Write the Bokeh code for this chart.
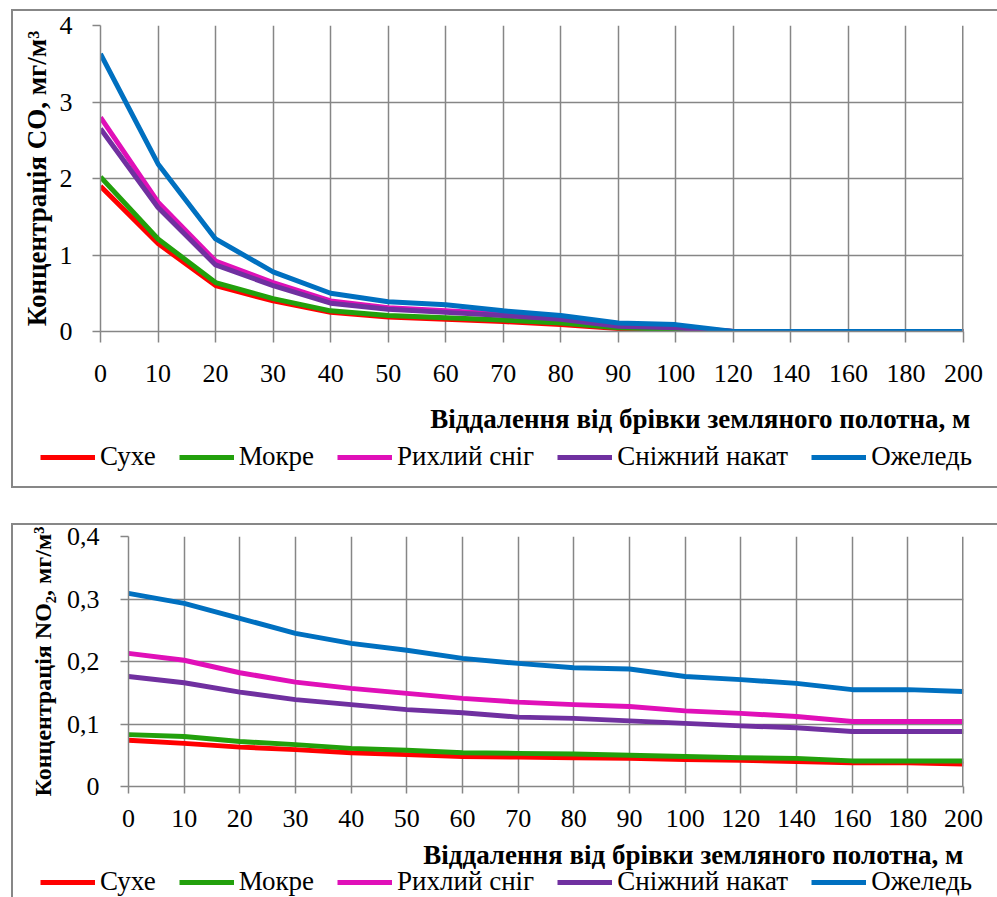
from bokeh.plotting import figure
from bokeh.models import (Range1d, FixedTicker, Span, Legend, LegendItem, Label,
                          InlineStyleSheet)
from bokeh.embed import file_html
from bokeh.resources import INLINE

# ---------------- data ----------------
categories = [0, 10, 20, 30, 40, 50, 60, 70, 80, 90, 100, 120, 140, 160, 180, 200]
series_names = ["Сухе", "Мокре", "Рихлий сніг", "Сніжний накат", "Ожеледь"]
series_colors = ["#FF0000", "#22A00C", "#E010B8", "#7030A0", "#0070C0"]

co_dry = [1.90, 1.15, 0.60, 0.40, 0.25, 0.19, 0.16, 0.13, 0.09, 0.04, 0.02, 0, 0, 0, 0, 0]
co_wet = [2.02, 1.21, 0.64, 0.43, 0.27, 0.21, 0.18, 0.15, 0.11, 0.05, 0.03, 0, 0, 0, 0, 0]
co_loose_snow = [2.80, 1.69, 0.92, 0.64, 0.40, 0.31, 0.27, 0.23, 0.18, 0.08, 0.06, 0, 0, 0, 0, 0]
co_packed_snow = [2.65, 1.62, 0.87, 0.60, 0.37, 0.29, 0.25, 0.21, 0.16, 0.07, 0.05, 0, 0, 0, 0, 0]
co_ice = [3.63, 2.19, 1.21, 0.78, 0.50, 0.39, 0.35, 0.27, 0.21, 0.11, 0.09, 0, 0, 0, 0, 0]

no2_dry = [0.074, 0.069, 0.063, 0.059, 0.054, 0.051, 0.048, 0.047, 0.046, 0.045, 0.043, 0.042, 0.040, 0.038, 0.038, 0.036]
no2_wet = [0.083, 0.080, 0.072, 0.067, 0.061, 0.058, 0.054, 0.053, 0.052, 0.050, 0.048, 0.046, 0.045, 0.041, 0.041, 0.041]
no2_loose_snow = [0.213, 0.202, 0.182, 0.167, 0.157, 0.149, 0.141, 0.135, 0.131, 0.128, 0.121, 0.117, 0.112, 0.104, 0.104, 0.104]
no2_packed_snow = [0.176, 0.166, 0.151, 0.139, 0.131, 0.123, 0.118, 0.111, 0.109, 0.105, 0.101, 0.097, 0.094, 0.088, 0.088, 0.088]
no2_ice = [0.309, 0.293, 0.269, 0.245, 0.229, 0.218, 0.205, 0.197, 0.190, 0.188, 0.176, 0.171, 0.165, 0.155, 0.155, 0.152]

co_ticks = [0, 1, 2, 3, 4]
co_tick_labels = ["0", "1", "2", "3", "4"]
no2_ticks = [0, 0.1, 0.2, 0.3, 0.4]
no2_tick_labels = ["0", "0,1", "0,2", "0,3", "0,4"]

x_title = "Віддалення від брівки земляного полотна, м"
co_title = "Концентрація CO, мг/м³"
no2_title = "Концентрація NO₂, мг/м³"

FONT = "Liberation Serif"
GRID = "#868686"
W = 997


def box_css(top, height):
    # grey frame round the whole chart (left, top and bottom edges visible)
    return (":host { position: relative; overflow: hidden; }"
            ":host::after { content: ''; position: absolute; left: 11px; top: %gpx;"
            " width: 2000px; height: %gpx; border: 2.5px solid #878787;"
            " box-sizing: border-box; pointer-events: none; z-index: 100; }" % (top, height))


def make_chart(height, frame_left, frame_top, frame_bottom, ymax, yticks, ylabels,
               ytitle, ytitle_size, series, xlabel_standoff, xtick_out, ylabel_standoff,
               ytitle_standoff, box_top):
    idx = list(range(len(categories)))
    p = figure(width=W, height=height, x_range=Range1d(0, len(categories) - 1),
               y_range=Range1d(0, ymax), output_backend="svg", toolbar_location=None,
               min_border_left=frame_left, min_border_right=34,
               min_border_top=frame_top, min_border_bottom=frame_bottom)
    p.outline_line_color = None
    p.background_fill_color = "white"
    p.border_fill_color = "white"

    p.xaxis.ticker = FixedTicker(ticks=idx)
    p.xaxis.major_label_overrides = {i: str(c) for i, c in zip(idx, categories)}
    p.yaxis.ticker = FixedTicker(ticks=yticks)
    p.yaxis.major_label_overrides = {t: l for t, l in zip(yticks, ylabels)}
    for ax in (p.xaxis[0], p.yaxis[0]):
        ax.axis_line_color = GRID
        ax.axis_line_width = 1.5
        ax.major_tick_line_color = GRID
        ax.major_tick_line_width = 1.5
        ax.major_tick_in = 0
        ax.minor_tick_line_color = None
        ax.major_label_text_font = FONT
        ax.major_label_text_font_size = "26px"
        ax.major_label_text_color = "black"
    p.xaxis.major_tick_out = xtick_out
    p.yaxis.major_tick_out = 8
    p.xaxis.major_label_standoff = xlabel_standoff
    p.yaxis.major_label_standoff = ylabel_standoff
    p.yaxis.axis_label = ytitle
    p.yaxis.axis_label_text_font = FONT
    p.yaxis.axis_label_text_font_style = "bold"
    p.yaxis.axis_label_text_font_size = ytitle_size
    p.yaxis.axis_label_text_color = "black"
    p.yaxis.axis_label_standoff = ytitle_standoff

    p.xgrid.ticker = FixedTicker(ticks=idx)
    p.ygrid.ticker = FixedTicker(ticks=yticks)
    for g in (p.xgrid[0], p.ygrid[0]):
        g.grid_line_color = GRID
        g.grid_line_width = 1.5
    p.add_layout(Span(location=len(categories) - 1, dimension="height",
                      line_color=GRID, line_width=3))

    for color, vals in zip(series_colors, series):
        p.line(idx, vals, line_color=color, line_width=5, line_join="round")

    p.stylesheets = [InlineStyleSheet(css=box_css(box_top, 3000))]
    return p


def make_footer(height, title_x, title_y, legend_y, box_bottom, series):
    # strip under a chart: x-axis title and the legend
    idx = list(range(len(categories)))
    f = figure(width=W, height=height, x_range=Range1d(0, 1), y_range=Range1d(-100, -99),
               x_axis_type=None, y_axis_type=None, output_backend="svg",
               toolbar_location=None, min_border=0)
    f.outline_line_color = None
    f.grid.visible = False
    f.background_fill_color = "white"
    f.border_fill_color = "white"
    f.add_layout(Label(x=title_x, y=title_y, x_units="screen", y_units="screen",
                       text=x_title, text_align="right", text_baseline="middle",
                       text_font=FONT, text_font_style="bold", text_font_size="27px",
                       text_color="black"))
    items = []
    for name, color, vals in zip(series_names, series_colors, series):
        # same series; the strip's y-range keeps the line itself out of view
        r = f.line(idx, vals, line_color=color, line_width=5)
        items.append(LegendItem(label=name, renderers=[r]))
    legend = Legend(items=items, orientation="horizontal", location=(40, legend_y),
                    glyph_width=55, glyph_height=28, label_height=28,
                    label_standoff=5, spacing=23, padding=0, margin=0,
                    label_text_font=FONT, label_text_font_size="27px",
                    label_text_color="black",
                    background_fill_alpha=0, border_line_color=None)
    f.add_layout(legend)
    f.stylesheets = [InlineStyleSheet(css=box_css(-20, box_bottom + 20))]
    return f


co_series = [co_dry, co_wet, co_loose_snow, co_packed_snow, co_ice]
no2_series = [no2_dry, no2_wet, no2_loose_snow, no2_packed_snow, no2_ice]

c1 = make_chart(height=395, frame_left=100, frame_top=25, frame_bottom=64, ymax=4,
                yticks=co_ticks, ylabels=co_tick_labels, ytitle=co_title,
                ytitle_size="27px", series=co_series,
                xlabel_standoff=22, xtick_out=11, ylabel_standoff=20,
                ytitle_standoff=5, box_top=9)
f1 = make_footer(height=110, title_x=970, title_y=87, legend_y=33, box_bottom=92.5,
                 series=co_series)

c2 = make_chart(height=336, frame_left=128, frame_top=31, frame_bottom=55, ymax=0.4,
                yticks=no2_ticks, ylabels=no2_tick_labels, ytitle=no2_title,
                ytitle_size="24px", series=no2_series,
                xlabel_standoff=16, xtick_out=7, ylabel_standoff=21,
                ytitle_standoff=8, box_top=18)
f2 = make_footer(height=56, title_x=963, title_y=43, legend_y=0, box_bottom=200,
                 series=no2_series)

open("out.html", "w").write(file_html([c1, f1, c2, f2], INLINE))
